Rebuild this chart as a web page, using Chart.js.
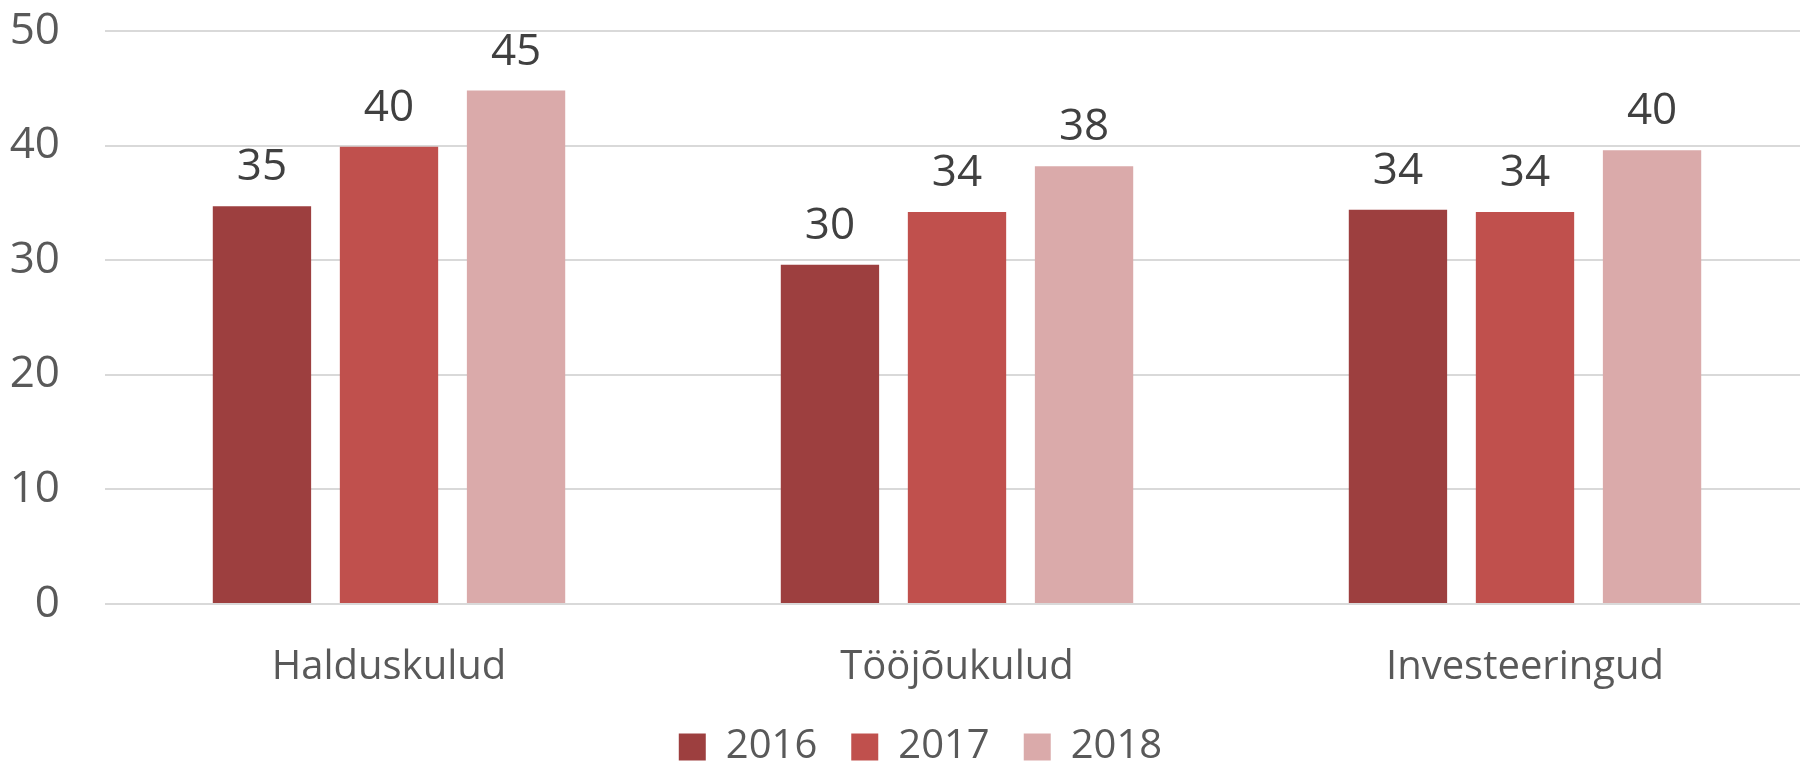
<!DOCTYPE html>
<html>
<head>
<meta charset="utf-8">
<script src="https://cdn.jsdelivr.net/npm/chart.js@4.4.0/dist/chart.umd.min.js"></script>
<style>
  html, body { margin: 0; padding: 0; background: #ffffff; overflow: hidden; }
  #wrap { width: 1809px; height: 763px; }
</style>
</head>
<body>
<div id="wrap"><canvas id="chart"></canvas></div>
<script>
// categories and series
var categories = ['Halduskulud', 'Tööjõukulud', 'Investeeringud'];
var years = ['2016', '2017', '2018'];
var values2016 = [34.7, 29.6, 34.4];
var values2017 = [39.9, 34.2, 34.2];
var values2018 = [44.8, 38.2, 39.6];
var yTicks = [0, 10, 20, 30, 40, 50];

var colors = ['#9D3F3F', '#C0504D', '#DAAAAA'];
var fontFamily = '"Open Sans", sans-serif';

// draws the rounded value above each bar
var valueLabels = {
    id: 'valueLabels',
    afterDatasetsDraw: function (chart) {
        var ctx = chart.ctx;
        ctx.save();
        ctx.font = '44px ' + fontFamily;
        ctx.fillStyle = '#404040';
        ctx.textAlign = 'center';
        ctx.textBaseline = 'alphabetic';
        chart.data.datasets.forEach(function (ds, i) {
            chart.getDatasetMeta(i).data.forEach(function (bar, j) {
                ctx.fillText(Math.round(ds.data[j]), bar.x, bar.y - 26);
            });
        });
        ctx.restore();
    }
};

// legend sits a little right of centre in the original
var legendShift = {
    id: 'legendShift',
    afterLayout: function (chart) {
        if (chart.legend) {
            chart.legend.left += 16;
            chart.legend.right += 16;
        }
    }
};

var seriesData = [values2016, values2017, values2018];
var datasets = years.map(function (y, i) {
    return {
        label: y,
        data: seriesData[i],
        backgroundColor: colors[i],
        categoryPercentage: 0.671,
        barPercentage: 0.774
    };
});

new Chart(document.getElementById('chart'), {
    type: 'bar',
    data: { labels: categories, datasets: datasets },
    plugins: [valueLabels, legendShift],
    options: {
        responsive: true,
        maintainAspectRatio: false,
        animation: false,
        layout: { padding: { left: 0, right: 0, top: 0, bottom: -14 } },
        scales: {
            x: {
                grid: { display: false, drawTicks: false },
                border: { display: false },
                ticks: {
                    color: '#595959',
                    padding: 40,
                    autoSkip: false,
                    maxRotation: 0,
                    font: { family: fontFamily, size: 40 }
                },
                afterFit: function (axis) {
                    axis.height = 89;
                }
            },
            y: {
                min: 0,
                max: 50,
                afterBuildTicks: function (axis) {
                    axis.ticks = yTicks.map(function (v) { return { value: v }; });
                },
                afterFit: function (axis) {
                    axis.width = 105;
                    axis.paddingTop = 31;
                    axis.paddingBottom = 0;
                },
                grid: { color: '#D9D9D9', lineWidth: 2, drawTicks: false },
                border: { display: false },
                ticks: {
                    color: '#595959',
                    padding: 45,
                    font: { family: fontFamily, size: 44 }
                }
            }
        },
        plugins: {
            tooltip: { enabled: false },
            legend: {
                position: 'bottom',
                labels: {
                    boxWidth: 27,
                    boxHeight: 27,
                    padding: 34,
                    color: '#595959',
                    font: { family: fontFamily, size: 40, lineHeight: 1 }
                }
            }
        }
    }
});
</script>
</body>
</html>
